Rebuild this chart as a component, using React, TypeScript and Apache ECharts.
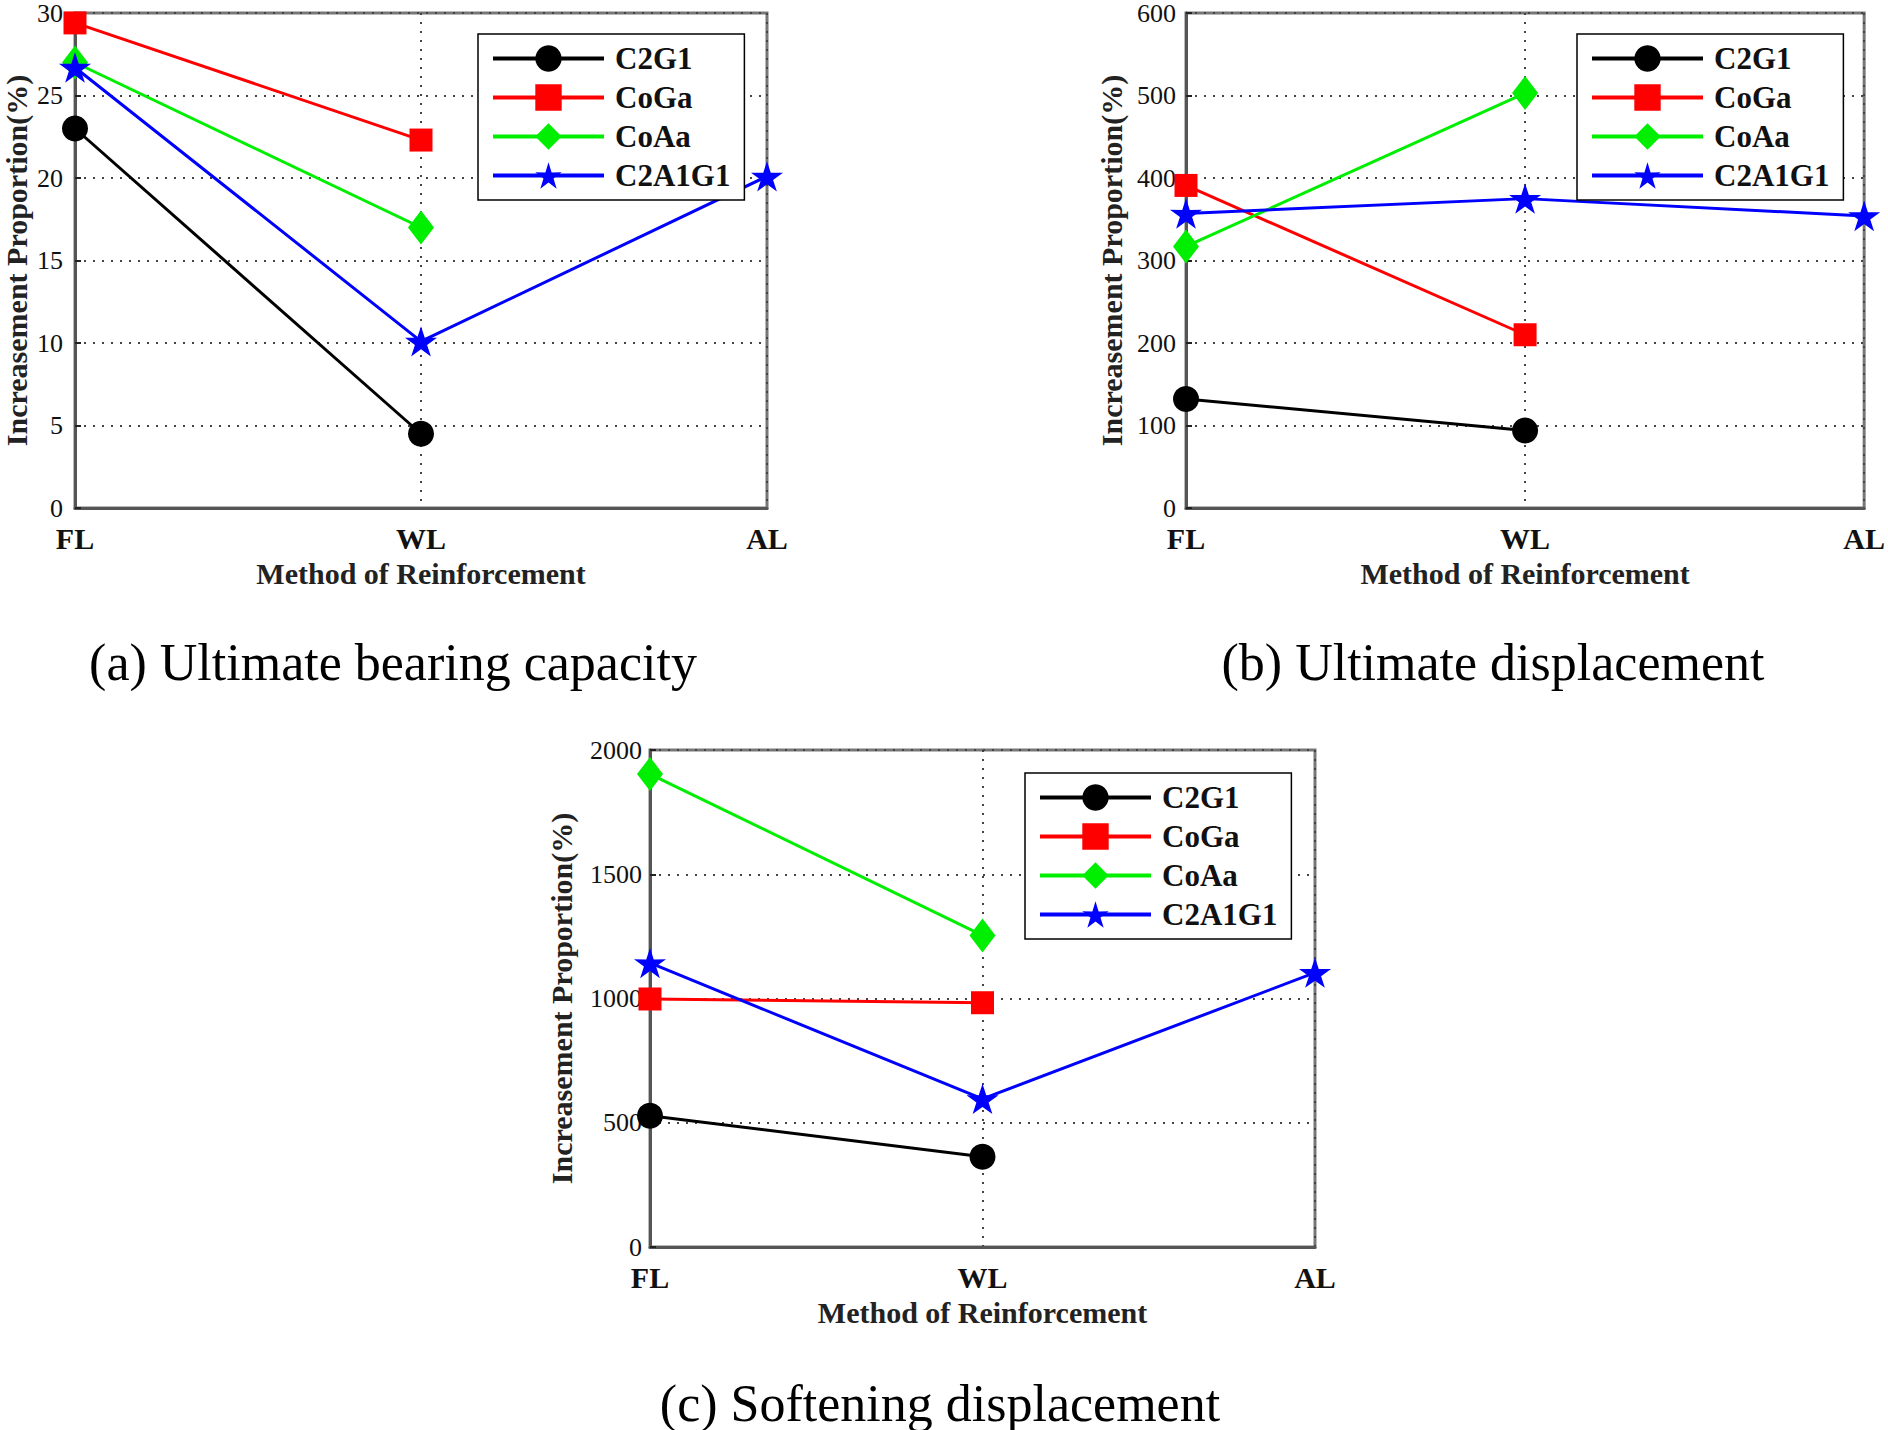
import React, { useEffect, useRef } from "react";
import * as echarts from "echarts";

const categories = ["FL", "WL", "AL"];
const seriesNames = ["C2G1", "CoGa", "CoAa", "C2A1G1"];

// (a) Ultimate bearing capacity
const capC2G1 = [23.0, 4.5, null];
const capCoGa = [29.4, 22.3, null];
const capCoAa = [27.0, 17.0, null];
const capC2A1G1 = [26.7, 10.1, 20.1];

// (b) Ultimate displacement
const udC2G1 = [132, 94, null];
const udCoGa = [391, 210, null];
const udCoAa = [317, 503, null];
const udC2A1G1 = [357, 375, 354];

// (c) Softening displacement
const sdC2G1 = [528, 363, null];
const sdCoGa = [998, 983, null];
const sdCoAa = [1903, 1254, null];
const sdC2A1G1 = [1143, 596, 1104];

const captions = [
  "(a) Ultimate bearing capacity",
  "(b) Ultimate displacement",
  "(c) Softening displacement",
];
const xTitle = "Method of Reinforcement";
const yTitle = "Increasement Proportion(%)";

const SERIF = "'Liberation Serif', 'Times New Roman', serif";
const STAR =
  "path://M50,0 L61.2,34.6 L97.6,34.5 L68.1,55.9 L79.4,90.5 L50,69 L20.6,90.5 L31.9,55.9 L2.4,34.5 L38.8,34.6 Z";

const styles = [
  { color: "#000000", symbol: "circle", symbolSize: 26 },
  { color: "#ff0000", symbol: "rect", symbolSize: 23 },
  { color: "#00ee00", symbol: "diamond", symbolSize: [26, 34] },
  { color: "#0000ff", symbol: STAR, symbolSize: 32 },
];

export default function App() {
  const ref = useRef<HTMLDivElement>(null);
  useEffect(() => {
    if (!ref.current) return;
    const chart = echarts.init(ref.current, null, { renderer: "svg" });

    const grids = [
      { left: 72, top: 10, width: 695, height: 498 },
      { left: 1186, top: 10, width: 683, height: 498 },
      { left: 650, top: 750, width: 665, height: 497 },
    ];
    const yCfg = [
      { max: 30, interval: 5, nameGap: 44, margin: 12 },
      { max: 600, interval: 100, nameGap: 60, margin: 10 },
      { max: 2000, interval: 500, nameGap: 74, margin: 8 },
    ];
    const legends = [
      { left: 478, top: 34 },
      { left: 1577, top: 34 },
      { left: 1025, top: 773 },
    ];
    const dataSets = [
      [capC2G1, capCoGa, capCoAa, capC2A1G1],
      [udC2G1, udCoGa, udCoAa, udC2A1G1],
      [sdC2G1, sdCoGa, sdCoAa, sdC2A1G1],
    ];
    const captionPos = [
      { x: 393, y: 662 },
      { x: 1493, y: 662 },
      { x: 940, y: 1403 },
    ];

    const dotted = { type: [2, 7] as any, color: "#444", width: 2 };

    const series: any[] = [];
    dataSets.forEach((set, gi) => {
      set.forEach((vals, si) => {
        series.push({
          type: "line",
          name: seriesNames[si],
          xAxisIndex: gi,
          yAxisIndex: gi,
          data: vals,
          symbol: styles[si].symbol,
          symbolSize: styles[si].symbolSize,
          symbolKeepAspect: true,
          showAllSymbol: true,
          lineStyle: { color: styles[si].color, width: 3 },
          itemStyle: { color: styles[si].color, borderWidth: 0 },
          z: 3 + si,
        });
      });
    });

    chart.setOption({
      animation: false,
      backgroundColor: "#ffffff",
      textStyle: { fontFamily: SERIF },
      grid: grids.map((g) => ({
        ...g,
        show: true,
        borderColor: "#777",
        borderWidth: 3,
        backgroundColor: "transparent",
      })),
      xAxis: grids.map((_, i) => ({
        type: "category",
        gridIndex: i,
        data: categories,
        boundaryGap: false,
        name: xTitle,
        nameLocation: "middle",
        nameGap: 50,
        nameTextStyle: {
          fontFamily: SERIF,
          fontWeight: "bold",
          fontSize: 30,
          color: "#222",
        },
        axisLine: { lineStyle: { color: "#555", width: 3 } },
        axisTick: { show: false },
        axisLabel: {
          fontFamily: SERIF,
          fontWeight: "bold",
          fontSize: 30,
          lineHeight: 24,
          color: "#111",
          margin: 18,
        },
        splitLine: { show: true, lineStyle: dotted },
      })),
      yAxis: grids.map((_, i) => ({
        type: "value",
        gridIndex: i,
        min: 0,
        max: yCfg[i].max,
        interval: yCfg[i].interval,
        name: yTitle,
        nameLocation: "middle",
        nameRotate: 90,
        nameGap: yCfg[i].nameGap,
        nameTextStyle: {
          fontFamily: SERIF,
          fontWeight: "bold",
          fontSize: 30,
          color: "#222",
        },
        axisLine: { show: true, lineStyle: { color: "#555", width: 3 } },
        axisTick: {
          show: true,
          inside: true,
          length: 6,
          lineStyle: { color: "#222", width: 2 },
        },
        axisLabel: {
          fontFamily: SERIF,
          fontSize: 26,
          lineHeight: 20,
          color: "#111",
          margin: yCfg[i].margin,
          formatter: (v: number) => String(v),
        },
        splitLine: { show: true, lineStyle: dotted },
      })),
      legend: legends.map((l) => ({
        ...l,
        orient: "vertical",
        data: seriesNames,
        itemWidth: 111,
        itemHeight: 33,
        itemGap: 8,
        padding: [9, 14, 9, 13],
        backgroundColor: "#ffffff",
        borderColor: "#000",
        borderWidth: 1.5,
        borderRadius: 0,
        selectedMode: false,
        lineStyle: { width: 4 },
        textStyle: {
          fontFamily: SERIF,
          fontWeight: "bold",
          fontSize: 31,
          color: "#111",
          padding: [0, 0, 0, 6],
        },
        z: 10,
      })),
      graphic: captions.map((c, i) => ({
        type: "text",
        x: captionPos[i].x,
        y: captionPos[i].y,
        style: {
          text: c,
          fontFamily: SERIF,
          fontSize: 52,
          fill: "#000",
          textAlign: "center",
          textVerticalAlign: "middle",
        },
      })),
      series,
    });

    return () => chart.dispose();
  }, []);

  return (
    <div
      ref={ref}
      style={{
        position: "absolute",
        left: 0,
        top: 0,
        width: 1888,
        height: 1430,
        background: "#fff",
      }}
    />
  );
}
